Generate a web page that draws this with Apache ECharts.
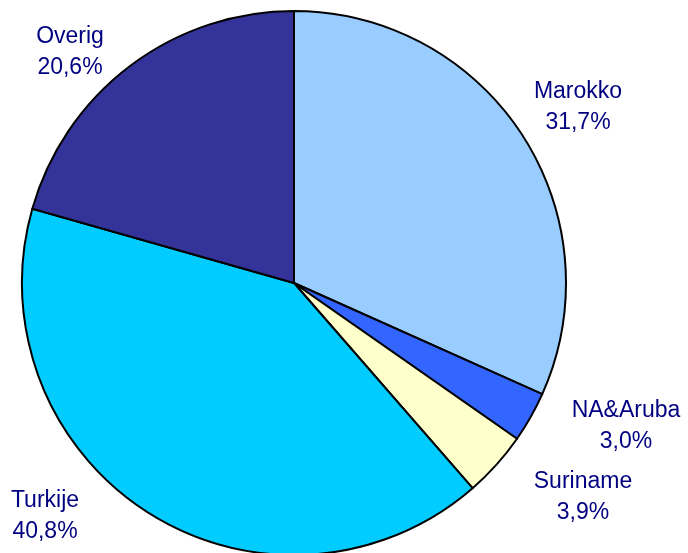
<!DOCTYPE html>
<html>
<head>
<meta charset="utf-8">
<script src="https://cdn.jsdelivr.net/npm/echarts@6/dist/echarts.min.js"></script>
<style>
html,body{margin:0;padding:0;background:#fff;}
#chart{width:688px;height:553px;}
</style>
</head>
<body>
<div id="chart"></div>
<script>
var categories = ['Marokko', 'NA&Aruba', 'Suriname', 'Turkije', 'Overig'];
var values = [31.7, 3.0, 3.9, 40.8, 20.6];
var colors = ['#99CCFF', '#3366FF', '#FFFFCC', '#00CCFF', '#333399'];
// label block centres (layout only)
var labelAnchors = [[578, 107], [626, 426], [583, 497], [45, 516], [70, 52]];

var chart = echarts.init(document.getElementById('chart'), null, {renderer: 'canvas'});
var data = categories.map(function (c, i) {
  return {name: c, value: values[i], itemStyle: {color: colors[i]}};
});
chart.setOption({
  animation: false,
  backgroundColor: '#ffffff',
  series: [{
    type: 'pie',
    center: [294, 283],
    radius: 272,
    startAngle: 90,
    clockwise: true,
    avoidLabelOverlap: false,
    data: data,
    itemStyle: {borderColor: '#000000', borderWidth: 2},
    label: {
      show: true,
      position: 'outside',
      formatter: function (p) {
        return p.name + '\n' + p.value.toFixed(1).replace('.', ',') + '%';
      },
      color: '#000080',
      fontFamily: 'Liberation Sans, Arial, sans-serif',
      fontSize: 23,
      lineHeight: 31,
      align: 'center'
    },
    labelLine: {show: false},
    labelLayout: function (p) {
      var a = labelAnchors[p.dataIndex];
      return {x: a[0], y: a[1], align: 'center', verticalAlign: 'middle'};
    },
    emphasis: {disabled: true}
  }]
});
</script>
</body>
</html>
